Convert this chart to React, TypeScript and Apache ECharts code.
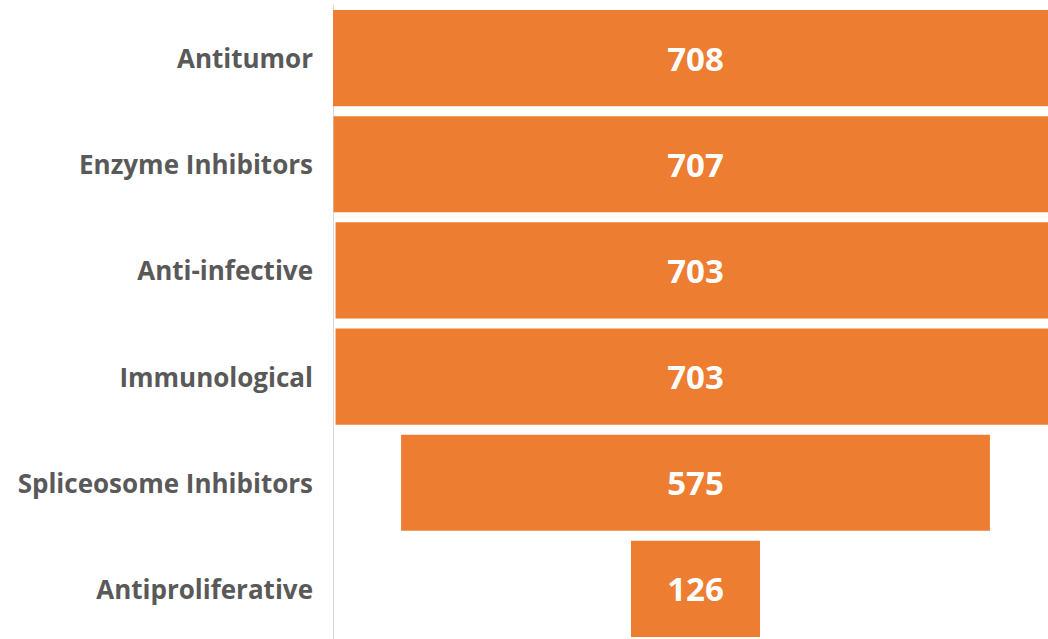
import React, { useEffect, useRef } from "react";
import * as echarts from "echarts";

const categories = [
  "Antitumor",
  "Enzyme Inhibitors",
  "Anti-infective",
  "Immunological",
  "Spliceosome Inhibitors",
  "Antiproliferative",
];
const values = [708, 707, 703, 703, 575, 126];

const maxValue = Math.max(...values);
const offsets = values.map((v) => (maxValue - v) / 2);

export default function App() {
  const ref = useRef<HTMLDivElement>(null);
  useEffect(() => {
    if (!ref.current) return;
    const chart = echarts.init(ref.current, undefined, { renderer: "svg" });
    chart.setOption({
      animation: false,
      backgroundColor: "#ffffff",
      grid: {
        left: 333,
        width: 725,
        top: 5,
        height: 637,
        containLabel: false,
        outerBoundsMode: "none",
      },
      xAxis: { type: "value", min: 0, max: maxValue, show: false },
      yAxis: {
        type: "category",
        inverse: true,
        data: categories,
        axisLine: { show: true, lineStyle: { color: "#d9d9d9", width: 1 } },
        axisTick: { show: false },
        splitLine: { show: false },
        axisLabel: {
          margin: 20,
          fontSize: 26,
          fontWeight: "bold",
          fontFamily: "Open Sans",
          color: "#595959",
        },
      },
      series: [
        {
          type: "bar",
          stack: "funnel",
          data: offsets,
          itemStyle: { color: "transparent" },
          barCategoryGap: "9.4%",
          silent: true,
        },
        {
          type: "bar",
          stack: "funnel",
          data: values,
          barCategoryGap: "9.4%",
          itemStyle: { color: "#ED7D31" },
          label: {
            show: true,
            position: "inside",
            color: "#ffffff",
            fontSize: 33,
            fontWeight: "bold",
            fontFamily: "Open Sans",
          },
        },
      ],
    });
    return () => chart.dispose();
  }, []);
  return (
    <div
      ref={ref}
      style={{ position: "fixed", left: 0, top: 0, width: 1048, height: 639 }}
    />
  );
}
